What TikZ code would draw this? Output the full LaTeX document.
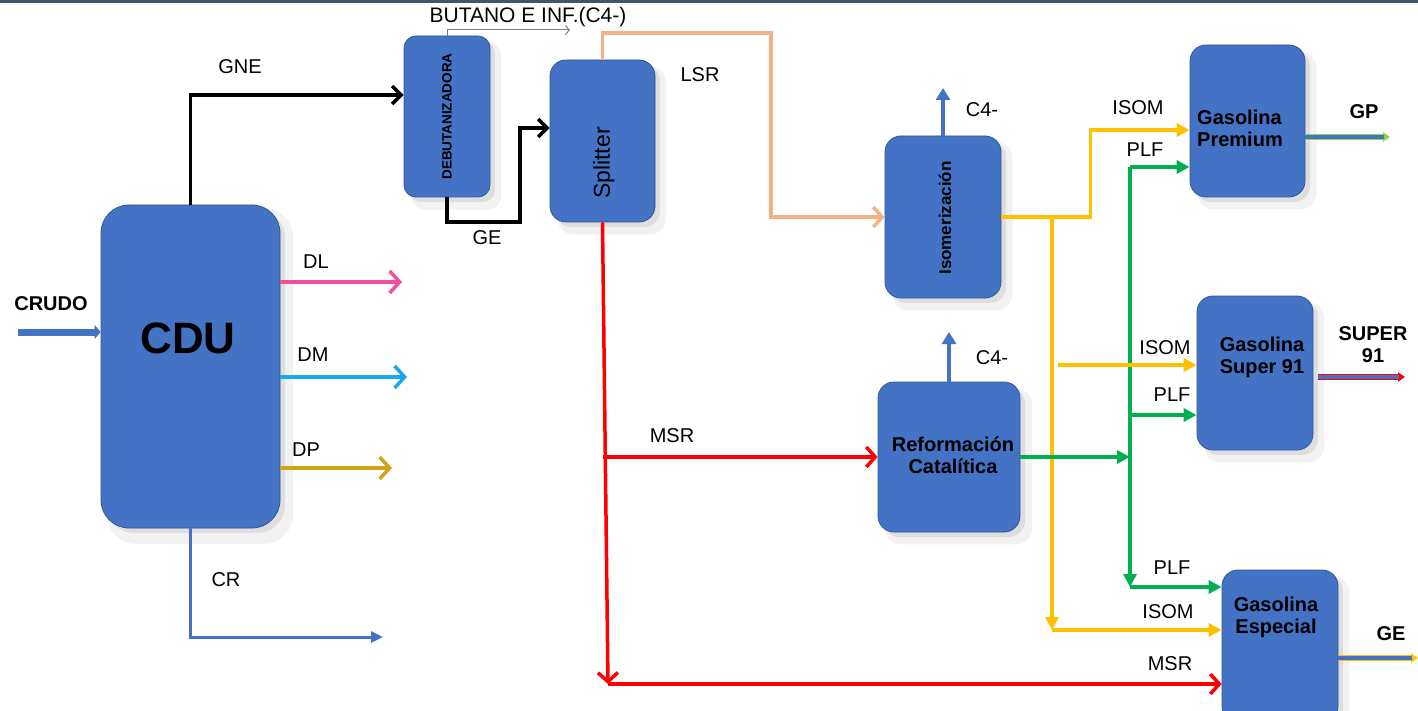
\documentclass[tikz,border=0pt]{standalone}
\usepackage{fontspec}
\setmainfont{Liberation Sans}
\usetikzlibrary{arrows.meta,shadows}

\definecolor{unitblue}{HTML}{4472C4}
\definecolor{unitedge}{HTML}{2F5597}
\definecolor{lsrpeach}{HTML}{F4B183}
\definecolor{isomyellow}{HTML}{FFC000}
\definecolor{plfgreen}{HTML}{00B050}
\definecolor{gplime}{HTML}{92D050}
\definecolor{dlpink}{HTML}{F0509E}
\definecolor{dmcyan}{HTML}{1AA7F2}
\definecolor{dpgold}{HTML}{D1A21A}
\definecolor{topbar}{HTML}{44546A}

\begin{document}
\begin{tikzpicture}[x=1pt, y=-1pt,
  unit/.style={draw=unitedge, line width=0.8pt, fill=unitblue, rounded corners=16pt, inner sep=0pt,
    drop shadow={shadow xshift=9pt, shadow yshift=-9pt, shadow scale=1.04, opacity=0.10},
    drop shadow={shadow xshift=5pt, shadow yshift=-5pt, opacity=0.18}},
  unittext/.style={font=\bfseries\fontsize{20}{22}\selectfont, align=center},
  flowlabel/.style={font=\fontsize{20}{22}\selectfont},
  outlabel/.style={font=\bfseries\fontsize{20}{22}\selectfont, align=center},
  blkline/.style={line width=3.5pt, -{Straight Barb[length=9pt, width=18pt]}},
  redline/.style={red, line width=3.5pt, -{Straight Barb[length=9pt, width=20pt]}},
  lsrline/.style={lsrpeach, line width=3.5pt, -{Straight Barb[length=9pt, width=20pt]}},
  distline/.style={#1, line width=3.5pt, -{Straight Barb[length=10pt, width=22pt]}},
  yelline/.style={isomyellow, line width=3.5pt, -{Triangle[length=13pt, width=13pt]}},
  grnline/.style={plfgreen, line width=3.5pt, -{Triangle[length=13pt, width=13pt]}},
  crline/.style={unitblue, line width=3pt, -{Triangle[length=12pt, width=11pt]}},
  c4line/.style={unitblue, line width=4.5pt, -{Triangle[length=12pt, width=14pt]}},
  crudoline/.style={unitblue, line width=7pt, -{Triangle[length=6pt, width=14pt]}},
  butline/.style={gray, line width=1pt, -{Straight Barb[length=4pt, width=9pt]}},
  prodline/.style={draw=#1, line width=5.5pt, -{Triangle[length=7pt, width=9pt]},
    postaction={draw=unitblue, line width=3.2pt, -, shorten >=6pt}}
]
\useasboundingbox (0,0) rectangle (1418,711);
\clip (0,0) rectangle (1418,711);
\fill[topbar] (0,0) rectangle (1418,3);

% process units
\node[unit, rounded corners=28pt, minimum width=179pt, minimum height=323pt] (cdu) at (190.5,366.5) {};
\node[unit, rounded corners=12pt, minimum width=86pt, minimum height=161pt] (debut) at (447,116.5) {};
\node[unit, minimum width=105pt, minimum height=162pt] (splitter) at (602.5,141) {};
\node[unit, minimum width=116pt, minimum height=162pt] (isom) at (943,217) {};
\node[unit, minimum width=142pt, minimum height=150pt] (reform) at (949,457) {};
\node[unit, minimum width=115pt, minimum height=152pt] (premium) at (1247.5,121) {};
\node[unit, minimum width=116pt, minimum height=154pt] (super) at (1255,373) {};
\node[unit, minimum width=116pt, minimum height=152pt] (especial) at (1280,646) {};

% unit names
\node[font=\bfseries\fontsize{44}{48}\selectfont] (cdutxt) at (188,338) {CDU};
\node[font=\bfseries\fontsize{13.5}{15}\selectfont, rotate=90] (debuttxt) at (447,116.5) {DEBUTANIZADORA};
\node[font=\fontsize{23}{26}\selectfont, rotate=90] (splittertxt) at (604,163) {Splitter};
\node[font=\bfseries\fontsize{17}{19}\selectfont, rotate=90] (isomtxt) at (945,218) {Isomerización};
\node[unittext] (reformtxt) at (953,455) {Reformación\\Catalítica};
\node[unittext, align=left] (premiumtxt) at (1240,128) {Gasolina\\Premium};
\node[unittext] (supertxt) at (1262,357) {Gasolina\\Super 91};
\node[unittext] (especialtxt) at (1276,617) {Gasolina\\Especial};

% free ends and bends
\coordinate (crudostart) at (18,332);
\coordinate (debin) at ([yshift=21.5pt]debut.west);
\coordinate (butend) at (570,30);
\coordinate (geturn) at (520,222);
\coordinate (splin) at ([yshift=13pt]splitter.west);
\coordinate (lsrturn) at (771,33);
\coordinate (dlend) at (402,282);
\coordinate (dmend) at (407,377);
\coordinate (dpend) at (392,468);
\coordinate (crend) at (383,637);
\coordinate (isomc4) at (943,88);
\coordinate (refc4) at (949,332);
\coordinate (msrcorner) at (608,684);
\coordinate (isombus) at (1052,0);
\coordinate (plfbus) at (1130,0);
\coordinate (preisom) at ([yshift=-9pt]premium.west);
\coordinate (preplf) at ([yshift=-46pt]premium.west);
\coordinate (supisom) at ([yshift=8pt]super.west);
\coordinate (supplf) at ([yshift=-42pt]super.west);
\coordinate (espplf) at ([yshift=59pt]especial.west);
\coordinate (espisom) at ([yshift=16pt]especial.west);
\coordinate (gpend) at (1390,137);
\coordinate (s91end) at (1405,377);
\coordinate (geend) at (1418,658);

% crude unit
\draw[crudoline] (crudostart) -- (crudostart -| cdu.west);
\draw[blkline] (cdu.north) |- (debin);
\draw[distline=dlpink] (cdu.east |- dlend) -- (dlend);
\draw[distline=dmcyan] (cdu.east |- dmend) -- (dmend);
\draw[distline=dpgold] (cdu.east |- dpend) -- (dpend);
\draw[crline] (cdu.south) |- (crend);

% debutanizer and splitter
\draw[butline] (debut.north) |- (butend);
\draw[blkline] (debut.south) |- (geturn) |- (splin);
\draw[lsrline] (splitter.north) |- (lsrturn) |- (isom.west);
\draw[redline] (splitter.south |- reform.west) -- (reform.west);
\draw[redline] (splitter.south) -- (msrcorner);
\draw[redline] (msrcorner) -- (msrcorner -| especial.west);

% light ends
\draw[c4line] (isom.north) -- (isomc4);
\draw[c4line] (reform.north) -- (refc4);

% isomerate
\draw[yelline] (isom.east) -- ++(89,0) |- (preisom);
\draw[yelline] (isom.east -| isombus) -- (isombus |- espisom);
\draw[yelline] (isombus |- espisom) -- (espisom);

% reformate
\draw[grnline] (plfbus |- preplf) -- (plfbus |- espplf);
\draw[grnline] (plfbus |- preplf) -- (preplf);
\draw[grnline] (plfbus |- supplf) -- (supplf);
\draw[grnline] (plfbus |- espplf) -- (espplf);
\draw[grnline] (reform.east) -- (reform.east -| plfbus);
\draw[yelline] ([xshift=6pt]isombus |- supisom) -- (supisom);

% products
\draw[prodline=gplime] (premium.east |- gpend) -- (gpend);
\draw[prodline=red] ([xshift=5pt]super.east |- s91end) -- (s91end);
\draw[prodline=isomyellow] (especial.east |- geend) -- (geend);

% stream labels
\node[outlabel] (lblcrudo) at (51,304) {CRUDO};
\node[flowlabel] (lblgne) at (240,67) {GNE};
\node[flowlabel, font=\fontsize{21}{22}\selectfont] (lblbut) at (528,17) {BUTANO E INF.(C4-)};
\node[flowlabel] (lblge) at (487,238) {GE};
\node[flowlabel] (lbllsr) at (700,75) {LSR};
\node[flowlabel] (lbldl) at (316,262) {DL};
\node[flowlabel] (lbldm) at (313,355) {DM};
\node[flowlabel] (lbldp) at (306,450) {DP};
\node[flowlabel] (lblcr) at (226,580) {CR};
\node[flowlabel] (lblmsr) at (672,436) {MSR};
\node[flowlabel] (lblmsresp) at (1170,664) {MSR};
\node[flowlabel] (lblisomc4) at (982,110) {C4-};
\node[flowlabel] (lblrefc4) at (992,358) {C4-};
\node[flowlabel] (lblisompre) at (1138,108) {ISOM};
\node[flowlabel] (lblisomsup) at (1165,348) {ISOM};
\node[flowlabel] (lblisomesp) at (1168,612) {ISOM};
\node[flowlabel] (lblplfpre) at (1145,150) {PLF};
\node[flowlabel] (lblplfsup) at (1172,395) {PLF};
\node[flowlabel] (lblplfesp) at (1172,568) {PLF};
\node[outlabel] (lblgp) at (1364,112) {GP};
\node[outlabel] (lblsuper) at (1373,345) {SUPER\\91};
\node[outlabel] (lblgeout) at (1391,634) {GE};
\end{tikzpicture}
\end{document}
